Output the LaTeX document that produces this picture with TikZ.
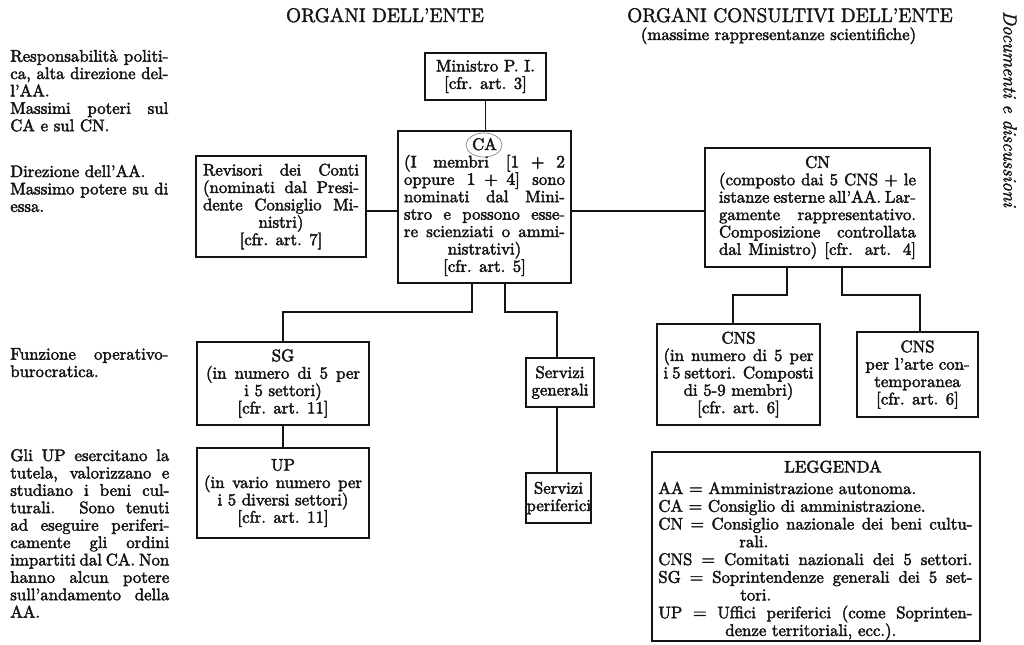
\documentclass[tikz,border=0pt]{standalone}
\usepackage{tikz}
\definecolor{ink}{RGB}{20,20,20}
% 1 px of the reference = 0.625pt
\newcommand\bolden{\special{pdf:literal direct 2 Tr 0.25 w}}
\newcommand\fs{\fontsize{10.5}{10.875}\selectfont\bolden}
\newcommand\hfs{\fontsize{12.3}{13}\selectfont\bolden}
\newcommand\jl[1]{\makebox[\linewidth][s]{#1}}
\newcommand\cfr[1]{{[cfr. art. #1]}}
\begin{document}
\begin{tikzpicture}[x=0.625pt,y=-0.625pt,
  box/.style={draw=ink,line width=1.1pt,inner sep=0pt,font=\fs,text=ink},
  conn/.style={draw=ink,line width=1pt},
  txt/.style={inner sep=0pt,font=\fs,anchor=base west,text=ink}]
\fill[white] (0,0) rectangle (1024,644);
\useasboundingbox (0,0) rectangle (1024,644);

% headers
\node[font=\hfs,anchor=base,inner sep=0pt,text=ink] (h1) at (385,22) {ORGANI DELL’ENTE};
\node[font=\hfs,anchor=base,inner sep=0pt,text=ink] (h2) at (790,22) {ORGANI CONSULTIVI DELL’ENTE};
\node[font=\fs,anchor=base,inner sep=0pt,text=ink] (h3) at (778.5,40) {(massime rappresentanze scientifiche)};
\node[font=\fontsize{11.8}{13}\selectfont\itshape\bolden,rotate=-90,inner sep=0pt,text=ink] (side) at (1010,109) {Documenti e discussioni};

% left column
\node[txt] (t1) at (10,61.6) {\parbox[t]{98.75pt}{\jl{Responsabilità politi-}\\
\jl{ca, alta direzione del-}\\
l’AA.\\
\jl{Massimi poteri sul}\\
CA e sul CN.}};
\node[txt] (t2) at (10,177) {\parbox[t]{98.75pt}{Direzione dell’AA.\\
\jl{Massimo potere su di}\\
essa.}};
\node[txt] (t3) at (10,359.6) {\parbox[t]{98.75pt}{\jl{Funzione operativo-}\\
burocratica.}};
\node[txt] (t4) at (10,461) {\parbox[t]{99.375pt}{\jl{Gli UP esercitano la}\\
\jl{tutela, valorizzano e}\\
\jl{studiano i beni cul-}\\
\jl{turali. Sono tenuti}\\
\jl{ad eseguire periferi-}\\
\jl{camente gli ordini}\\
\jl{impartiti dal CA. Non}\\
\jl{hanno alcun potere}\\
\jl{sull’andamento della}\\
AA.}};

% boxes
\node[box,minimum width=75.625pt,minimum height=29.375pt] (min) at (485.5,76.5)
  {\parbox{72pt}{\centering Ministro P. I.\\\cfr{3}}};
\node[box,minimum width=108.125pt,minimum height=95pt] (ca) at (484.5,207)
  {\parbox{100.625pt}{\centering CA\\
  \jl{(I membri [$1+2$}\\
  \jl{oppure $1+4$] sono}\\
  \jl{nominati dal Mini-}\\
  \jl{stro e possono esse-}\\
  \jl{re scienziati o ammi-}\\
  nistrativi)\\
  \cfr{5}}};
\draw[line width=0.4pt,gray] (484,145) ellipse [x radius=18,y radius=12];
\node[box,minimum width=106.25pt,minimum height=63.125pt] (rev) at (281,206.5)
  {\parbox{97.5pt}{\centering \jl{Revisori dei Conti}\\
  \jl{(nominati dal Presi-}\\
  \jl{dente Consiglio Mi-}\\
  nistri)\\
  \cfr{7}}};
\node[box,minimum width=140.625pt,minimum height=74.375pt] (cn) at (817.5,207.5)
  {\parbox{123.125pt}{\centering CN\\
  \jl{(composto dai 5 CNS $+$ le}\\
  \jl{istanze esterne all’AA. Lar-}\\
  \jl{gamente rappresentativo.}\\
  \jl{Composizione controllata}\\
  \jl{dal Ministro) [cfr. art. 4]}}};
\node[box,minimum width=107.5pt,minimum height=51.875pt] (sg) at (283,383.5)
  {\parbox{96.25pt}{\centering SG\\
  \jl{(in numero di 5 per}\\
  i 5 settori)\\
  \cfr{11}}};
\node[box,minimum width=107.5pt,minimum height=56.25pt] (up) at (283,493)
  {\parbox{98.75pt}{\centering UP\\
  \jl{(in vario numero per}\\
  i 5 diversi settori)\\
  \cfr{11}}};
\node[box,minimum width=42.5pt,minimum height=30.625pt] (sgen) at (560,382.5)
  {\parbox{40pt}{\centering Servizi\\generali}};
\node[box,minimum width=40.625pt,minimum height=31.25pt] (sper) at (558.5,498)
  {\parbox{40pt}{\centering Servizi\\periferici}};
\node[box,minimum width=101.875pt,minimum height=63.125pt] (cnsl) at (738.5,374.5)
  {\parbox{93.75pt}{\centering CNS\\
  \jl{(in numero di 5 per}\\
  \jl{i 5 settori. Composti}\\
  di 5-9 membri)\\
  \cfr{6}}};
\node[box,minimum width=75.625pt,minimum height=53.125pt] (cnsr) at (917.5,374.5)
  {\parbox{72pt}{\centering CNS\\
  per l’arte con-\\
  temporanea\\
  \cfr{6}}};

% legend
\node[box,minimum width=205pt,minimum height=118.125pt] (leg) at (816,546.5) {};
\node[txt,anchor=base] (lgt) at (833,472.5) {LEGGENDA};
\node[txt,font=\fontsize{10.5}{11.09}\selectfont\bolden] (lgb) at (658,494) {\parbox[t]{196.25pt}{AA $=$ Amministrazione autonoma.\\
CA $=$ Consiglio di amministrazione.\\
\jl{CN $=$ Consiglio nazionale dei beni cultu-}\\
\hspace*{50.625pt}rali.\\
\jl{CNS $=$ Comitati nazionali dei 5 settori.}\\
\jl{SG $=$ Soprintendenze generali dei 5 set-}\\
\hspace*{51.25pt}tori.\\
\jl{UP $=$ Uffici periferici (come Soprinten-}\\
\hspace*{41.875pt}denze territoriali, ecc.).}};

% connectors
\coordinate (hl) at (0,211);
\draw[conn] (min.south) -- (min.south |- ca.north);
\draw[conn] (rev.east |- hl) -- (ca.west |- hl);
\draw[conn] (ca.east |- hl) -- (cn.west |- hl);
\coordinate (a1) at (472,312);
\coordinate (a2) at (505,312);
\coordinate (a3) at (557,312);
\draw[conn] (a1 |- ca.south) -- (a1) -| (sg.north);
\draw[conn] (a2 |- ca.south) -- (a2) -- (a3) -- (a3 |- sgen.north);
\draw[conn] (a3 |- sgen.south) -- (a3 |- sper.north);
\draw[conn] (sg.south) -- (up.north);
\coordinate (b1) at (787,295);
\coordinate (b2) at (733,295);
\coordinate (b3) at (842,295);
\coordinate (b4) at (920,295);
\draw[conn] (b1 |- cn.south) -- (b1) -- (b2) -- (b2 |- cnsl.north);
\draw[conn] (b3 |- cn.south) -- (b3) -- (b4) -- (b4 |- cnsr.north);
\end{tikzpicture}
\end{document}
